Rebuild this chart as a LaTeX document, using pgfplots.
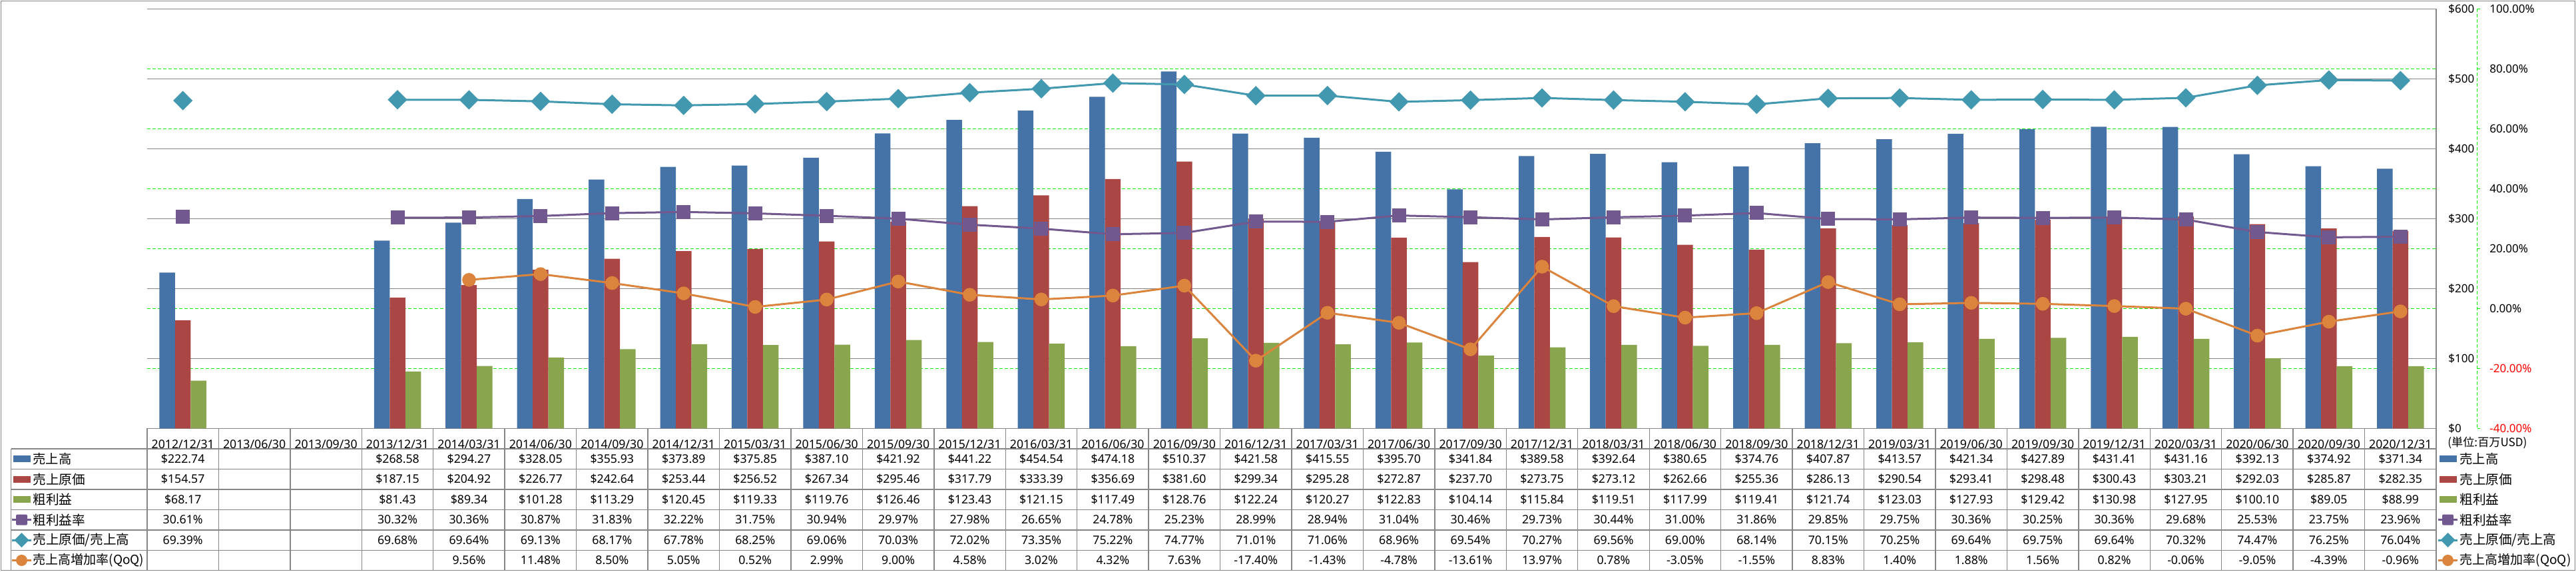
\documentclass[border=0pt]{standalone}
\usepackage{fontspec}
\usepackage{graphicx}
\setmainfont{Noto Sans}
\newfontfamily\cjk{Noto Sans CJK JP}
\usepackage{pgfplots}
\usepackage{pgfplotstable}
\pgfplotsset{compat=1.18}

\definecolor{cBlue}{RGB}{69,114,167}
\definecolor{cRed}{RGB}{170,70,67}
\definecolor{cGreen}{RGB}{137,165,78}
\definecolor{cPurple}{RGB}{113,88,143}
\definecolor{cTeal}{RGB}{65,152,175}
\definecolor{cOrange}{RGB}{219,132,61}
\definecolor{cGrid}{RGB}{134,134,134}
\definecolor{cLime}{RGB}{0,235,0}

\newcommand\tfont{\fontsize{8.85pt}{10.5pt}\selectfont}
\newcommand\kfont{\fontsize{8.5pt}{10pt}\selectfont}
% Japanese label set to a given width (in pt)
\newcommand\jt[2]{\resizebox{#1pt}{!}{\cjk\fontsize{10pt}{12pt}\selectfont #2}}

\pgfplotstableread{
idx sales cogs gp gm ratio qoq
0 222.74 154.57 68.17 30.61 69.39 nan
1 nan nan nan nan nan nan
2 nan nan nan nan nan nan
3 268.58 187.15 81.43 30.32 69.68 nan
4 294.27 204.92 89.34 30.36 69.64 9.56
5 328.05 226.77 101.28 30.87 69.13 11.48
6 355.93 242.64 113.29 31.83 68.17 8.50
7 373.89 253.44 120.45 32.22 67.78 5.05
8 375.85 256.52 119.33 31.75 68.25 0.52
9 387.10 267.34 119.76 30.94 69.06 2.99
10 421.92 295.46 126.46 29.97 70.03 9.00
11 441.22 317.79 123.43 27.98 72.02 4.58
12 454.54 333.39 121.15 26.65 73.35 3.02
13 474.18 356.69 117.49 24.78 75.22 4.32
14 510.37 381.60 128.76 25.23 74.77 7.63
15 421.58 299.34 122.24 28.99 71.01 -17.40
16 415.55 295.28 120.27 28.94 71.06 -1.43
17 395.70 272.87 122.83 31.04 68.96 -4.78
18 341.84 237.70 104.14 30.46 69.54 -13.61
19 389.58 273.75 115.84 29.73 70.27 13.97
20 392.64 273.12 119.51 30.44 69.56 0.78
21 380.65 262.66 117.99 31.00 69.00 -3.05
22 374.76 255.36 119.41 31.86 68.14 -1.55
23 407.87 286.13 121.74 29.85 70.15 8.83
24 413.57 290.54 123.03 29.75 70.25 1.40
25 421.34 293.41 127.93 30.36 69.64 1.88
26 427.89 298.48 129.42 30.25 69.75 1.56
27 431.41 300.43 130.98 30.36 69.64 0.82
28 431.16 303.21 127.95 29.68 70.32 -0.06
29 392.13 292.03 100.10 25.53 74.47 -9.05
30 374.92 285.87 89.05 23.75 76.25 -4.39
31 371.34 282.35 88.99 23.96 76.04 -0.96
}\data

\def\nanstr{nan}
\newcommand\tabrow[4]{%
  \foreach \r in {0,...,31}{%
    \pgfplotstablegetelem{\r}{#1}\of\data
    \let\cellv\pgfplotsretval
    \ifx\cellv\nanstr\else
      \node[font=\tfont, inner sep=0pt] at ({221+(\r+0.5)*107.4375},#2) {#3\cellv#4};
    \fi
  }%
}

\pgfplotsset{
  myaxis/.style={scale only axis, width=1719pt, height=315pt,
    at={(110.5pt,-321.65pt)}, anchor=south west, xmin=-0.5, xmax=31.5},
}

\begin{document}
\begin{tikzpicture}
\path[use as bounding box] (0,0) rectangle (1934.5pt,-429pt);

% percentage grid and tick labels
\begin{axis}[myaxis, ymin=-40, ymax=100,
  ytick={-40,-20,0,20,40,60,80,100},
  yticklabels={\textcolor{red}{-40.00\%},\textcolor{red}{-20.00\%},0.00\%,20.00\%,40.00\%,60.00\%,80.00\%,100.00\%},
  ymajorgrids, major grid style={cLime, line width=0.5pt, dash pattern=on 2.5pt off 1.5pt},
  hide x axis, axis y line*=right, y axis line style={draw=none}, ytick style={draw=none},
  yticklabel style={anchor=west, inner sep=0pt, xshift=40pt, font=\kfont}]
\end{axis}

% dollar axis with bars
\begin{axis}[myaxis, ymin=0, ymax=600,
  ytick={0,100,200,300,400,500,600},
  yticklabels={\$0,\$100,\$200,\$300,\$400,\$500,\$600},
  ymajorgrids, major grid style={cGrid, line width=0.65pt},
  axis y line*=right, axis x line*=bottom,
  axis line style={cGrid, line width=0.65pt},
  ytick style={draw=none}, xtick style={draw=none},
  yticklabel style={anchor=west, inner sep=0pt, xshift=9pt, font=\kfont},
  xtick={0,...,31},
  xticklabels={2012/12/31,2013/06/30,2013/09/30,2013/12/31,2014/03/31,2014/06/30,2014/09/30,2014/12/31,2015/03/31,2015/06/30,2015/09/30,2015/12/31,2016/03/31,2016/06/30,2016/09/30,2016/12/31,2017/03/31,2017/06/30,2017/09/30,2017/12/31,2018/03/31,2018/06/30,2018/09/30,2018/12/31,2019/03/31,2019/06/30,2019/09/30,2019/12/31,2020/03/31,2020/06/30,2020/09/30,2020/12/31},
  xticklabel style={anchor=center, inner sep=0pt, yshift=-7.68pt, font=\tfont},
  ybar=0pt, bar width=11.75pt]
\addplot[draw=none, fill=cBlue] table[x=idx, y=sales]{\data};
\addplot[draw=none, fill=cRed] table[x=idx, y=cogs]{\data};
\addplot[draw=none, fill=cGreen] table[x=idx, y=gp]{\data};
\end{axis}

% percentage lines
\begin{axis}[myaxis, ymin=-40, ymax=100, hide axis, unbounded coords=jump, clip=false]
\addplot[cPurple, line width=1.5pt, mark=square*, mark size=4.5pt] table[x=idx, y=gm]{\data};
\addplot[cTeal, line width=1.5pt, mark=square*, mark size=4.4pt, mark options={rotate=45}] table[x=idx, y=ratio]{\data};
\addplot[cOrange, line width=1.5pt, mark=*, mark size=4.4pt] table[x=idx, y=qoq]{\data};
\end{axis}

\begin{scope}[x=0.5pt, y=-0.5pt]
\draw[cGrid, line width=0.75pt] (1.5,1.5) rectangle (3867.5,856.5);
% secondary (percent) axis line and ticks
\draw[cLime, line width=0.5pt, dash pattern=on 2.5pt off 1.5pt] (3720.7,13.3) -- (3720.7,643.3);
\foreach \k in {0,...,7} \draw[cLime, line width=0.5pt] (3720.7,{13.3+\k*90}) -- (3725,{13.3+\k*90});
% table grid
\foreach \k in {0,...,32} \draw[cGrid, line width=0.7pt] ({221+\k*107.4375},643.3) -- ({221+\k*107.4375},856.7);
\draw[cGrid, line width=0.7pt] (16.5,674) -- (16.5,856.7);
\foreach \r in {0,...,6} \draw[cGrid, line width=0.7pt] (16.5,{674+\r*30.45}) -- (3659,{674+\r*30.45});
% values
\tabrow{sales}{689.2}{\$}{}
\tabrow{cogs}{719.7}{\$}{}
\tabrow{gp}{750.1}{\$}{}
\tabrow{gm}{780.6}{}{\%}
\tabrow{ratio}{811.0}{}{\%}
\tabrow{qoq}{841.5}{}{\%}
% legend keys (left column and right legend)
\foreach \xo/\tx in {0/49, 3644/3694}{
  \fill[cBlue] ({20+\xo},684.2) rectangle ({46+\xo},694.2);
  \fill[cRed] ({20+\xo},714.7) rectangle ({46+\xo},724.7);
  \fill[cGreen] ({20+\xo},745.1) rectangle ({46+\xo},755.1);
  \draw[cPurple, line width=1.5pt] ({18+\xo},780.6) -- ({47+\xo},780.6);
  \fill[cPurple, rounded corners=1pt] ({24+\xo},772.6) rectangle ({41+\xo},788.6);
  \draw[cTeal, line width=1.5pt] ({18+\xo},811.0) -- ({47+\xo},811.0);
  \fill[cTeal] ({32.5+\xo},800) -- ({43.5+\xo},811.0) -- ({32.5+\xo},822) -- ({21.5+\xo},811.0) -- cycle;
  \draw[cOrange, line width=1.5pt] ({18+\xo},841.5) -- ({47+\xo},841.5);
  \fill[cOrange] ({32.5+\xo},841.5) circle (8.5);
  \node[inner sep=0pt, anchor=west] at (\tx,689.2) {\jt{29}{売上高}};
  \node[inner sep=0pt, anchor=west] at (\tx,719.7) {\jt{39.2}{売上原価}};
  \node[inner sep=0pt, anchor=west] at (\tx,750.1) {\jt{29.5}{粗利益}};
  \node[inner sep=0pt, anchor=west] at (\tx,780.6) {\jt{39.2}{粗利益率}};
  \node[inner sep=0pt, anchor=west] at (\tx,811.0) {\jt{72.5}{売上原価/売上高}};
  \node[inner sep=0pt, anchor=west] at (\tx,841.5) {\jt{83.5}{売上高増加率(QoQ)}};
}
\node[inner sep=0pt, anchor=west] at (3676,665) {\jt{59.5}{(単位:百万USD)}};
\end{scope}
\end{tikzpicture}
\end{document}
